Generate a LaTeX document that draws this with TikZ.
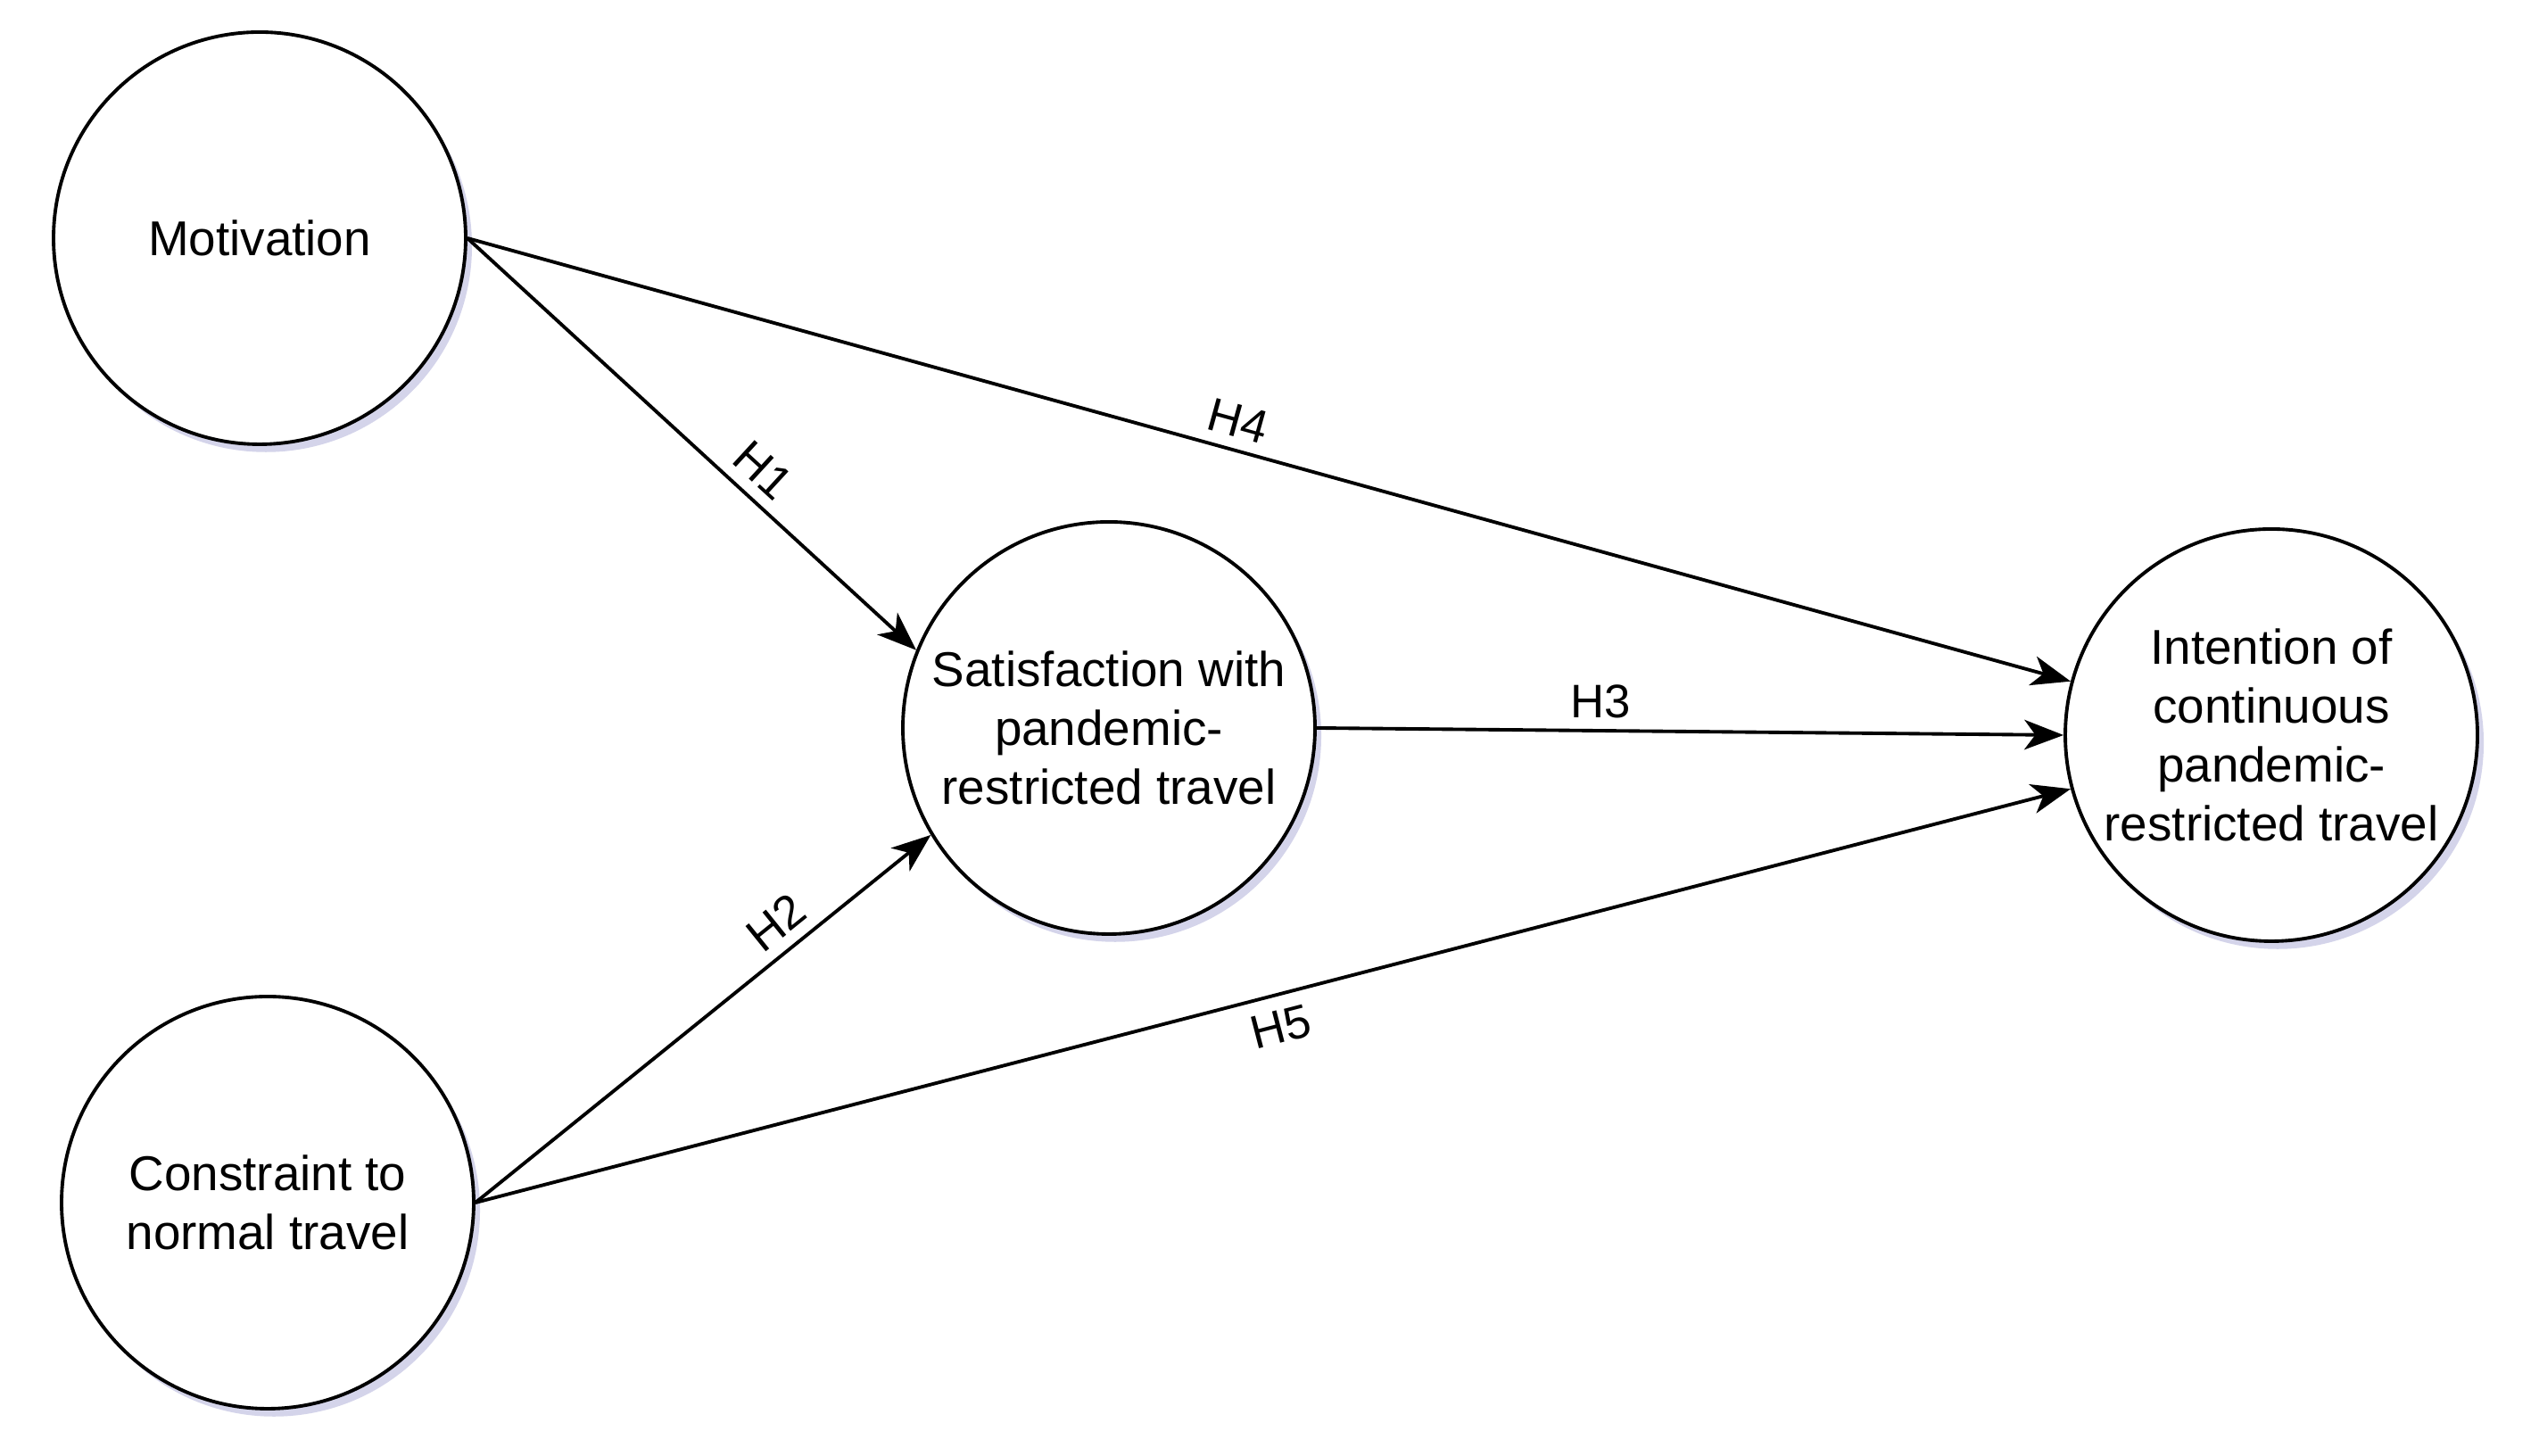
\documentclass[tikz,border=0pt]{standalone}
\usepackage{fontspec}
\setmainfont{Liberation Sans}
\usetikzlibrary{arrows.meta, shadows}
\tikzstyle{construct} = [circle, draw, line width=1.1pt, fill=white, minimum size=4.62cm, inner sep=0pt, align=center, font=\fontsize{15.6}{18.8}\selectfont, drop shadow={shadow xshift=2pt, shadow yshift=-2.5pt, fill=blue!35!gray, opacity=0.25}]
\tikzstyle{arrow} = [line width=1.1pt,-{Stealth[length=12.5pt,width=9.5pt,inset=3.5pt]}]
\tikzstyle{hyp} = [font=\fontsize{15}{17}\selectfont, inner sep=2pt]

\begin{document}
\begin{tikzpicture}

\useasboundingbox (0,0) rectangle (28.46,16.32);

% constructs
\node[construct] (mot) at (2.91,13.65) {Motivation};
\node[construct] (con) at (3.00,2.84) {Constraint to\\normal travel};
\node[construct] (sat) at (12.43,8.16) {Satisfaction with\\pandemic-\\restricted travel};
\node[construct] (int) at (25.46,8.08) {Intention of\\continuous\\pandemic-\\restricted travel};

% hypotheses
\draw[arrow] (mot.east) -- (sat.158) node[hyp, pos=0.615, sloped, above=1.5pt] {H1};
\draw[arrow] (con.east) -- (sat.211) node[hyp, pos=0.70, sloped, above=1.5pt] {H2};
\draw[arrow] (sat.east) -- (int.west) node[hyp, pos=0.38, above=1.5pt] {H3};
\draw[arrow] (mot.east) -- (int.165) node[hyp, pos=0.476, sloped, above=1.5pt] {H4};
\draw[arrow] (con.east) -- (int.195) node[hyp, pos=0.50, sloped, below=2.5pt] {H5};

\end{tikzpicture}
\end{document}
